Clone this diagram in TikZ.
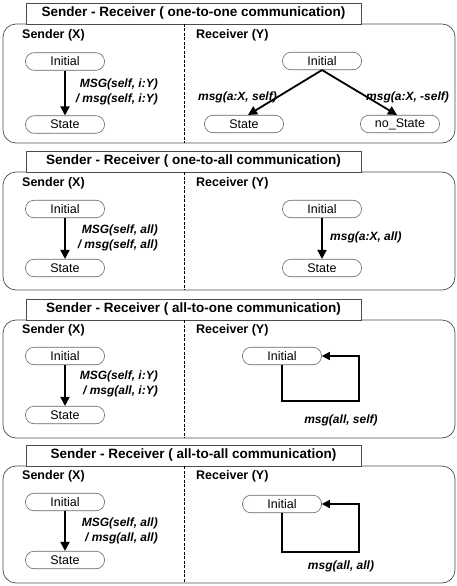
\documentclass[tikz,border=0pt]{standalone}
\usepackage{fontspec}
\setmainfont{Liberation Sans}
\usetikzlibrary{arrows.meta}

\begin{document}
\begin{tikzpicture}[x=1pt,y=-1pt,
  panel/.style={draw=black!70, line width=0.7pt, rounded corners=13pt},
  titlebox/.style={draw=black!70, line width=0.7pt, fill=white, minimum width=335pt, minimum height=21pt, inner sep=0pt, font=\fontsize{13.5}{15}\selectfont\bfseries},
  header/.style={anchor=west, inner sep=0pt, font=\fontsize{12.5}{14}\selectfont\bfseries},
  stbox/.style={draw=black!60, line width=0.6pt, rounded corners=8.5pt, minimum width=79pt, minimum height=17.5pt, inner sep=0pt, font=\fontsize{12.5}{14}\selectfont},
  divider/.style={draw=black, line width=1pt, dash pattern=on 3pt off 1.5pt},
  arr/.style={draw=black, line width=1.8pt, -{Triangle[length=9pt,width=9pt]}},
  looparr/.style={draw=black, line width=1.3pt, -{Triangle[length=8pt,width=8pt]}},
  lbl/.style={inner sep=0pt, font=\fontsize{12}{15}\selectfont\bfseries\itshape}
]
\useasboundingbox (0,0) rectangle (457,586);

% ---------- one-to-one ----------
\draw[panel] (3,24) rectangle (455,143);
\node[titlebox] (t1) at (193.5,13.5) {Sender - Receiver ( one-to-one communication)};
\draw[divider] (184,24) -- (184,143);
\node[header] (sx1) at (22,35) {Sender (X)};
\node[header] (ry1) at (196,35) {Receiver (Y)};
\node[stbox] (a1) at (65,61.5) {Initial};
\node[stbox] (b1) at (65,124.5) {State};
\draw[arr] (a1.south) -- (b1.north);
\node[lbl, align=right, anchor=east] (m1) at (158,91.5) {MSG(self, i:Y)\\/ msg(self, i:Y)};
\node[stbox] (c1) at (322,61) {Initial};
\node[stbox] (d1) at (244,124) {State};
\node[stbox] (e1) at (400,124) {no\_State};
\draw[arr] (c1.south) -- (d1.north -| 248,0);
\draw[arr] (c1.south) -- (e1.north -| 397,0);
\node[lbl, anchor=east] (n1) at (277,97) {msg(a:X, self)};
\node[lbl, anchor=west] (p1) at (366,97) {msg(a:X, -self)};

% ---------- one-to-all ----------
\draw[panel] (3,172) rectangle (455,290);
\node[titlebox] (t2) at (193.5,161.5) {Sender - Receiver ( one-to-all communication)};
\draw[divider] (184,172) -- (184,290);
\node[header] (sx2) at (22,183) {Sender (X)};
\node[header] (ry2) at (196,183) {Receiver (Y)};
\node[stbox] (a2) at (65,209) {Initial};
\node[stbox] (b2) at (65,268) {State};
\draw[arr] (a2.south) -- (b2.north);
\node[lbl, align=right, anchor=east] (m2) at (158,238) {MSG(self, all)\\/ msg(self, all)};
\node[stbox] (c2) at (322,209) {Initial};
\node[stbox] (d2) at (322,268) {State};
\draw[arr] (c2.south) -- (d2.north);
\node[lbl, anchor=west] (n2) at (330,237) {msg(a:X, all)};

% ---------- all-to-one ----------
\draw[panel] (3,320) rectangle (455,438);
\node[titlebox] (t3) at (193.5,309.5) {Sender - Receiver ( all-to-one communication)};
\draw[divider] (184,320) -- (184,438);
\node[header] (sx3) at (22,330) {Sender (X)};
\node[header] (ry3) at (196,330) {Receiver (Y)};
\node[stbox] (a3) at (65,356) {Initial};
\node[stbox] (b3) at (65,415) {State};
\draw[arr] (a3.south) -- (b3.north);
\node[lbl, align=right, anchor=east] (m3) at (158,384) {MSG(self, i:Y)\\/ msg(all, i:Y)};
\node[stbox] (c3) at (282,356) {Initial};
\coordinate (k3) at (359,401);
\draw[looparr] (c3.south) |- (k3) |- (c3.east);
\node[lbl] (n3) at (341,420) {msg(all, self)};

% ---------- all-to-all ----------
\draw[panel] (3,466) rectangle (455,583);
\node[titlebox] (t4) at (193.5,455.5) {Sender - Receiver ( all-to-all communication)};
\draw[divider] (184,466) -- (184,583);
\node[header] (sx4) at (22,476) {Sender (X)};
\node[header] (ry4) at (196,476) {Receiver (Y)};
\node[stbox] (a4) at (65,502) {Initial};
\node[stbox] (b4) at (65,560) {State};
\draw[arr] (a4.south) -- (b4.north);
\node[lbl, align=right, anchor=east] (m4) at (158,531) {MSG(self, all)\\/ msg(all, all)};
\node[stbox] (c4) at (282,504) {Initial};
\coordinate (k4) at (359,552);
\draw[looparr] (c4.south) |- (k4) |- (c4.east);
\node[lbl] (n4) at (341,566) {msg(all, all)};
\end{tikzpicture}
\end{document}
